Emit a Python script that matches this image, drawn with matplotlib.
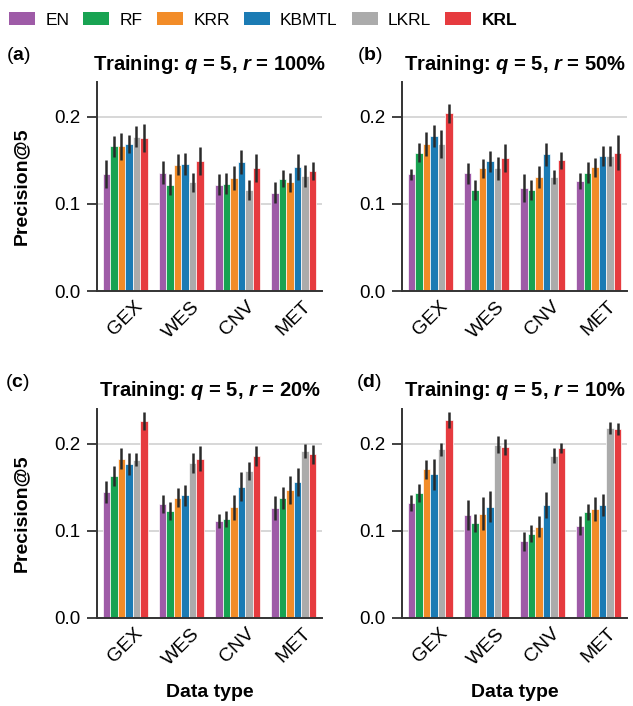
import matplotlib
matplotlib.use("Agg")
import matplotlib.pyplot as plt
import numpy as np
from matplotlib.patches import Patch

plt.rcParams['font.family'] = ['Liberation Sans', 'DejaVu Sans']
plt.rcParams['mathtext.fontset'] = 'custom'
plt.rcParams['mathtext.rm'] = 'Liberation Sans'
plt.rcParams['mathtext.bf'] = 'Liberation Sans:bold'
plt.rcParams['mathtext.bfit'] = 'Liberation Sans:italic:bold'

# methods, data types and colours
methods = ["EN", "RF", "KRR", "KBMTL", "LKRL", "KRL"]
data_types = ["GEX", "WES", "CNV", "MET"]
colors = ["#9e5ba7", "#18a352", "#f28c28", "#1b7bb4", "#ababab", "#e63b3f"]

# Precision@5 means (rows: methods, cols: GEX, WES, CNV, MET)
prec_r100 = [[0.134, 0.136, 0.122, 0.113],
             [0.166, 0.122, 0.123, 0.129],
             [0.166, 0.145, 0.130, 0.125],
             [0.169, 0.146, 0.148, 0.142],
             [0.177, 0.125, 0.116, 0.132],
             [0.176, 0.149, 0.141, 0.138]]
err_r100 = [[0.016, 0.013, 0.012, 0.012],
            [0.012, 0.012, 0.012, 0.010],
            [0.015, 0.012, 0.014, 0.011],
            [0.010, 0.013, 0.014, 0.015],
            [0.012, 0.011, 0.011, 0.013],
            [0.016, 0.016, 0.016, 0.010]]

prec_r50 = [[0.134, 0.135, 0.118, 0.126],
            [0.159, 0.116, 0.116, 0.136],
            [0.169, 0.141, 0.131, 0.142],
            [0.178, 0.149, 0.157, 0.155],
            [0.169, 0.141, 0.131, 0.155],
            [0.204, 0.153, 0.150, 0.159]]
err_r50 = [[0.006, 0.012, 0.016, 0.009],
           [0.011, 0.012, 0.011, 0.012],
           [0.014, 0.011, 0.013, 0.011],
           [0.013, 0.012, 0.013, 0.011],
           [0.016, 0.013, 0.008, 0.011],
           [0.011, 0.016, 0.010, 0.020]]

prec_r20 = [[0.145, 0.131, 0.111, 0.126],
            [0.163, 0.123, 0.114, 0.138],
            [0.183, 0.138, 0.127, 0.147],
            [0.177, 0.141, 0.151, 0.156],
            [0.182, 0.178, 0.169, 0.192],
            [0.226, 0.183, 0.186, 0.188]]
err_r20 = [[0.0125, 0.010, 0.008, 0.014],
           [0.011, 0.010, 0.009, 0.013],
           [0.012, 0.011, 0.014, 0.016],
           [0.013, 0.012, 0.017, 0.016],
           [0.008, 0.011, 0.010, 0.008],
           [0.010, 0.014, 0.012, 0.011]]

prec_r10 = [[0.132, 0.118, 0.088, 0.106],
            [0.1435, 0.109, 0.097, 0.122],
            [0.171, 0.120, 0.105, 0.125],
            [0.165, 0.128, 0.130, 0.130],
            [0.1935, 0.199, 0.1865, 0.218],
            [0.227, 0.196, 0.195, 0.217]]
err_r10 = [[0.009, 0.017, 0.0105, 0.011],
           [0.010, 0.010, 0.010, 0.009],
           [0.011, 0.019, 0.012, 0.0135],
           [0.018, 0.018, 0.015, 0.0125],
           [0.008, 0.010, 0.009, 0.007],
           [0.009, 0.009, 0.006, 0.007]]

panels = [("a", "100%", prec_r100, err_r100),
          ("b", "50%", prec_r50, err_r50),
          ("c", "20%", prec_r20, err_r20),
          ("d", "10%", prec_r10, err_r10)]

W, H = 633, 706
fig = plt.figure(figsize=(W / 100, H / 100), dpi=100)

# axes rectangles in pixels: left, top; and panel-letter x positions
rects = [(97, 82), (402, 82), (97, 409), (402, 409)]
tag_x = [6, 357, 5, 356]
ax_w, ax_h = 225, 209

spine_col = "#333333"
n = len(methods)
bw = 0.8 / n
x = np.arange(len(data_types))

for k, (tag, r, prec, err) in enumerate(panels):
    left, top = rects[k]
    ax = fig.add_axes([left / W, 1 - (top + ax_h) / H, ax_w / W, ax_h / H])
    for i in range(n):
        xs = x - 0.4 + bw * (i + 0.5)
        ax.bar(xs, prec[i], width=bw, color=colors[i], edgecolor="white",
               linewidth=0.5, zorder=2)
        ax.errorbar(xs, prec[i], yerr=err[i], fmt="none", ecolor="#2a2a2a",
                    elinewidth=1.8, capsize=0, zorder=3)
    ax.set_xlim(-0.5, 3.5)
    ax.set_ylim(0, 0.24)
    ax.set_yticks([0.0, 0.1, 0.2])
    ax.set_yticklabels(["0.0", "0.1", "0.2"])
    ax.set_xticks(x)
    ax.set_xticklabels(data_types, rotation=45)
    ax.tick_params(axis="x", length=0, labelsize=14, pad=5)
    ax.tick_params(axis="y", length=7, width=1.3, color=spine_col,
                   labelsize=13.5, pad=5)
    ax.yaxis.grid(True, color="#d4d4d4", linewidth=1.3, zorder=0)
    ax.set_axisbelow(True)
    for s in ["top", "right"]:
        ax.spines[s].set_visible(False)
    for s in ["left", "bottom"]:
        ax.spines[s].set_color(spine_col)
        ax.spines[s].set_linewidth(1.4)
    ax.set_title("Training: $\\mathbfit{q}$ = 5, $\\mathbfit{r}$ = " + r,
                 fontsize=14.5, fontweight="bold", pad=9)
    if k % 2 == 0:
        ax.set_ylabel("Precision@5", fontsize=14, fontweight="bold", labelpad=17)
    if k >= 2:
        ax.set_xlabel("Data type", fontsize=14, fontweight="bold", labelpad=11)
    fig.text(tag_x[k] / W, 1 - (top - 22) / H, "($\\mathbf{" + tag + "}$)",
             fontsize=14, va="baseline", ha="left")

# legend across the top
handles = [Patch(facecolor=c, edgecolor="none") for c in colors]
leg = fig.legend(handles, methods, loc="upper left", bbox_to_anchor=(-0.005, 1.0),
                 ncol=6, frameon=False, fontsize=12.5, handlelength=1.5,
                 handleheight=0.75, handletextpad=0.6, columnspacing=0.8,
                 borderaxespad=0.3)
leg.get_texts()[-1].set_fontweight("bold")

fig.savefig("out.png", dpi=100)
